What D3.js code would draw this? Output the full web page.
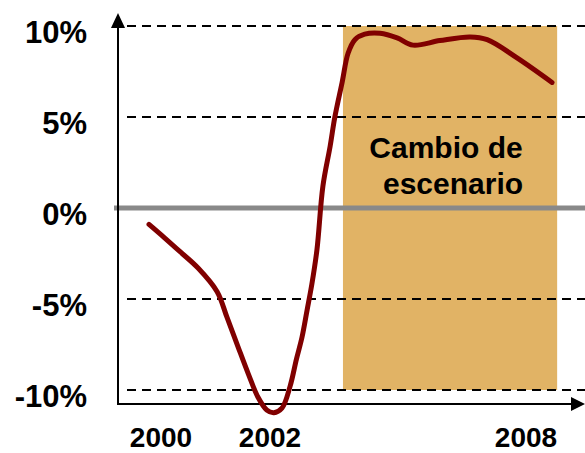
<html>
<head>
<script src="https://d3js.org/d3.v7.min.js"></script>
<style>
  body { margin: 0; background: #fff; }
  text { font-family: "Liberation Sans", Arial, sans-serif; font-weight: bold; fill: #000; }
</style>
</head>
<body>
<svg width="585" height="453"></svg>
<script>
// data
var years = [1999.78, 2000.07, 2000.35, 2000.68, 2001.03, 2001.21, 2001.41, 2001.60, 2001.78, 2001.94,
             2002.09, 2002.28, 2002.47, 2002.62, 2002.75, 2002.87, 2002.98, 2003.10, 2003.24,
             2003.41, 2003.52, 2003.69, 2003.83, 2003.99, 2004.22, 2004.58, 2004.98, 2005.35, 2005.98,
             2006.69, 2007.09, 2007.79, 2008.61];
var values = [-0.9, -1.65, -2.4, -3.3, -4.6, -6.0, -7.6, -9.1, -10.4, -11.1,
              -11.25, -11.0, -9.8, -8.3, -7.1, -5.6, -4.2, -2.3, 1.2,
              3.4, 5.0, 6.9, 8.5, 9.25, 9.55, 9.6, 9.35, 8.95, 9.2,
              9.4, 9.25, 8.25, 6.9];
var yTicks = [10, 5, 0, -5, -10];
var gridVals = [10, 5, -5, -10];
var xTicks = [2000, 2002, 2008];
var scenario = [2003.71, 2008.73];
var scenarioLabel = ["Cambio de", "escenario"];

var svg = d3.select("svg");

var x = d3.scaleLinear().domain([2000, 2002, 2008]).range([161, 270, 526]);
var y = d3.scaleLinear().domain([-10, 10]).range([390, 26]);

// shaded band
svg.append("rect")
   .attr("x", x(scenario[0]))
   .attr("y", y(10))
   .attr("width", x(scenario[1]) - x(scenario[0]))
   .attr("height", y(-10) - y(10))
   .attr("fill", "#e1b365");

svg.selectAll(".lbl")
   .data(scenarioLabel)
   .enter().append("text")
   .attr("class", "lbl")
   .attr("x", function(d, i) { return i == 0 ? 446 : 453; })
   .attr("y", function(d, i) { return 158 + i * 36; })
   .attr("text-anchor", "middle")
   .attr("font-size", 30)
   .text(function(d) { return d; });

// dashed grid
svg.selectAll(".grid")
   .data(gridVals)
   .enter().append("line")
   .attr("class", "grid")
   .attr("x1", 127).attr("x2", 585)
   .attr("y1", function(d) { return y(d); })
   .attr("y2", function(d) { return y(d); })
   .attr("stroke", "#000")
   .attr("stroke-width", 2)
   .attr("stroke-dasharray", "9,6");

// zero line
svg.append("line")
   .attr("x1", 114).attr("x2", 585)
   .attr("y1", y(0)).attr("y2", y(0))
   .attr("stroke", "#898989")
   .attr("stroke-width", 5);

// axes with arrows
var axisY = 404;
svg.append("line")
   .attr("x1", 118).attr("x2", 118)
   .attr("y1", axisY).attr("y2", 24)
   .attr("stroke", "#000").attr("stroke-width", 2);
svg.append("path")
   .attr("d", "M118,13 L111,28 L125,28 Z")
   .attr("fill", "#000");
svg.append("line")
   .attr("x1", 117).attr("x2", 575)
   .attr("y1", axisY).attr("y2", axisY)
   .attr("stroke", "#000").attr("stroke-width", 2);
svg.append("path")
   .attr("d", "M585,404 L571,397 L571,411 Z")
   .attr("fill", "#000");

// tick labels
svg.selectAll(".ytick")
   .data(yTicks)
   .enter().append("text")
   .attr("class", "ytick")
   .attr("x", 87)
   .attr("y", function(d) { return y(d) + 17; })
   .attr("text-anchor", "end")
   .attr("font-size", 31)
   .text(function(d) { return d + "%"; });

svg.selectAll(".xtick")
   .data(xTicks)
   .enter().append("text")
   .attr("class", "xtick")
   .attr("x", function(d) { return x(d); })
   .attr("y", 447)
   .attr("text-anchor", "middle")
   .attr("font-size", 28)
   .text(function(d) { return d; });

// the series
var line = d3.line()
   .x(function(d, i) { return x(years[i]); })
   .y(function(d) { return y(d); })
   .curve(d3.curveCatmullRom.alpha(0.5));

svg.append("path")
   .datum(values)
   .attr("d", line)
   .attr("fill", "none")
   .attr("stroke", "#800000")
   .attr("stroke-width", 5)
   .attr("stroke-linecap", "round")
   .attr("stroke-linejoin", "round");
</script>
</body>
</html>
